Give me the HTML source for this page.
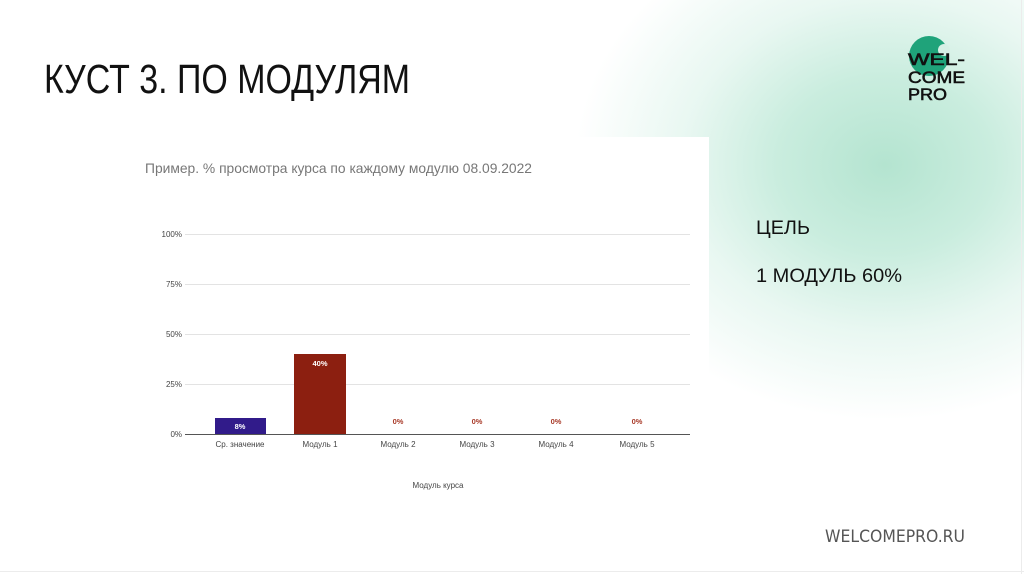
<!DOCTYPE html>
<html>
<head>
<meta charset="utf-8">
<style>
  html, body { margin:0; padding:0; background:#ffffff; }
  body { width:1024px; height:574px; overflow:hidden; position:relative; }
  .glow {
    position:absolute; left:0; top:0; width:1024px; height:574px;
    background:
      radial-gradient(ellipse 310px 255px at 885px 165px, rgba(180,228,208,1) 0%, rgba(196,235,219,0.9) 35%, rgba(220,243,234,0.65) 65%, rgba(255,255,255,0) 100%);
  }
  svg { position:absolute; left:0; top:0; }
</style>
</head>
<body>
<div class="glow"></div>
<svg width="1024" height="574" viewBox="0 0 1024 574" xmlns="http://www.w3.org/2000/svg">
  <!-- slide borders -->
  <line x1="1021.5" y1="0" x2="1021.5" y2="574" stroke="#ececec" stroke-width="1"/>
  <line x1="0" y1="571.5" x2="1024" y2="571.5" stroke="#ececec" stroke-width="1"/>

  <!-- Heading -->
  <text x="44" y="93" font-family="'Liberation Sans',sans-serif" font-size="41" fill="#111" textLength="366" lengthAdjust="spacingAndGlyphs">КУСТ 3. ПО МОДУЛЯМ</text>

  <!-- Logo -->
  <circle cx="929" cy="56" r="20" fill="#1fa37a"/>
  <circle cx="944" cy="50" r="6" fill="#d6efe5"/>
  <g font-family="'Liberation Sans',sans-serif" font-size="17" fill="#111" stroke="#111" stroke-width="0.6">
    <text x="908" y="65" textLength="57" lengthAdjust="spacingAndGlyphs">WEL-</text>
    <text x="908" y="83" textLength="57" lengthAdjust="spacingAndGlyphs">COME</text>
    <text x="908" y="100" textLength="39" lengthAdjust="spacingAndGlyphs">PRO</text>
  </g>

  <!-- Chart white box -->
  <rect x="110" y="137" width="599" height="390" fill="#ffffff"/>

  <!-- Chart title -->
  <text x="145" y="173" font-family="'Liberation Sans',sans-serif" font-size="14" fill="#777" textLength="387" lengthAdjust="spacingAndGlyphs">Пример. % просмотра курса по каждому модулю 08.09.2022</text>

  <!-- Gridlines -->
  <g stroke="#e3e3e3" stroke-width="1">
    <line x1="185" y1="234.5" x2="690" y2="234.5"/>
    <line x1="185" y1="284.5" x2="690" y2="284.5"/>
    <line x1="185" y1="334.5" x2="690" y2="334.5"/>
    <line x1="185" y1="384.5" x2="690" y2="384.5"/>
  </g>

  <!-- Y labels -->
  <g font-family="'Liberation Sans',sans-serif" font-size="8" fill="#444" text-anchor="end">
    <text x="182" y="237">100%</text>
    <text x="182" y="287">75%</text>
    <text x="182" y="337">50%</text>
    <text x="182" y="387">25%</text>
    <text x="182" y="437">0%</text>
  </g>

  <!-- Bars -->
  <rect x="215" y="418" width="51" height="16" fill="#311b8a"/>
  <rect x="294" y="354" width="52" height="80" fill="#8c1f10"/>

  <!-- Axis -->
  <line x1="185" y1="434.5" x2="690" y2="434.5" stroke="#555" stroke-width="1"/>

  <!-- Data labels -->
  <g font-family="'Liberation Sans',sans-serif" font-size="7.5" font-weight="bold" text-anchor="middle">
    <text x="240" y="429" fill="#ffffff">8%</text>
    <text x="320" y="366" fill="#ffffff">40%</text>
    <text x="398" y="424" fill="#a83a28">0%</text>
    <text x="477" y="424" fill="#a83a28">0%</text>
    <text x="556" y="424" fill="#a83a28">0%</text>
    <text x="637" y="424" fill="#a83a28">0%</text>
  </g>

  <!-- Category labels -->
  <g font-family="'Liberation Sans',sans-serif" font-size="8" fill="#444" text-anchor="middle">
    <text x="240" y="447">Ср. значение</text>
    <text x="320" y="447">Модуль 1</text>
    <text x="398" y="447">Модуль 2</text>
    <text x="477" y="447">Модуль 3</text>
    <text x="556" y="447">Модуль 4</text>
    <text x="637" y="447">Модуль 5</text>
    <text x="438" y="488">Модуль курса</text>
  </g>

  <!-- Right side text -->
  <g font-family="'Liberation Sans',sans-serif" font-size="19" fill="#111">
    <text x="756" y="234" textLength="54" lengthAdjust="spacingAndGlyphs">ЦЕЛЬ</text>
    <text x="756" y="282" textLength="146" lengthAdjust="spacingAndGlyphs">1 МОДУЛЬ 60%</text>
  </g>

  <!-- Footer -->
  <text x="825" y="542" font-family="'DejaVu Sans','Liberation Sans',sans-serif" font-size="17" fill="#555" textLength="140" lengthAdjust="spacingAndGlyphs">WELCOMEPRO.RU</text>
</svg>
</body>
</html>
